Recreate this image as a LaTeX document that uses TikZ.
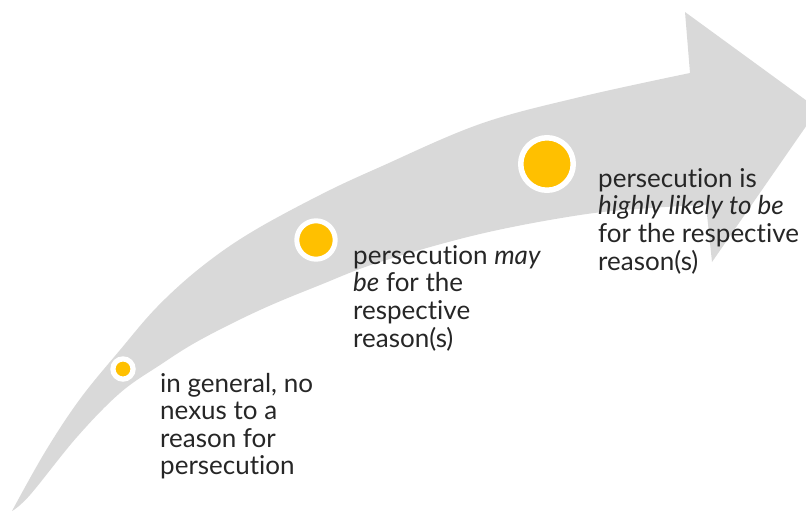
\documentclass[tikz,border=0pt]{standalone}
\usepackage{fontspec}
\setmainfont{Lato}[Ligatures={NoCommon}]
\definecolor{arrowgray}{HTML}{D9D9D9}
\definecolor{dotyellow}{HTML}{FFC000}
\definecolor{txtgray}{HTML}{262626}
\tikzset{
  dot/.style={circle, fill=dotyellow, draw=white, inner sep=0pt},
  txt/.style={anchor=base west, inner sep=0pt, text=txtgray, font=\fontsize{26}{27.6}\selectfont}
}
\newcommand{\blocktext}[1]{\def\arraystretch{1}\begin{tabular}[t]{@{}l@{}}#1\end{tabular}}
\begin{document}
\begin{tikzpicture}[x=1pt,y=-1pt]
\useasboundingbox (0,0) rectangle (806,512);
\begin{scope}
\clip (0,0) rectangle (806,512);
\fill[arrowgray] plot[smooth, tension=0.6] coordinates {(12,511) (45,452) (80,399) (120,350) (157,307) (200,268) (250,233) (320,195) (380,167) (480,124) (580,97) (690,73)}
  -- (685,12) -- (818,109) -- (712,262)
  -- plot[smooth, tension=0.6] coordinates {(706,205) (650,208) (580,215) (480,234) (380,262) (320,285) (260,310) (200,340) (160,365) (120,393) (77,437) (30,495) (12,511)} -- cycle;
\end{scope}
\node[dot, minimum size=20.2pt, line width=5.2pt] (d1) at (123,369) {};
\node[dot, minimum size=38.4pt, line width=5pt] (d2) at (316,240) {};
\node[dot, minimum size=52.5pt, line width=5.5pt] (d3) at (547,164) {};
\node[txt] (t1) at (160,392) {\blocktext{in general, no\\nexus to a\\reason for\\persecution}};
\node[txt] (t2) at (353,264) {\blocktext{persecution \textit{may}\\\textit{be} for the\\respective\\reason(s)}};
\node[txt] (t3) at (598,187) {\blocktext{persecution is\\\textit{highly likely to be}\\for the respective\\reason(s)}};
\end{tikzpicture}
\end{document}
